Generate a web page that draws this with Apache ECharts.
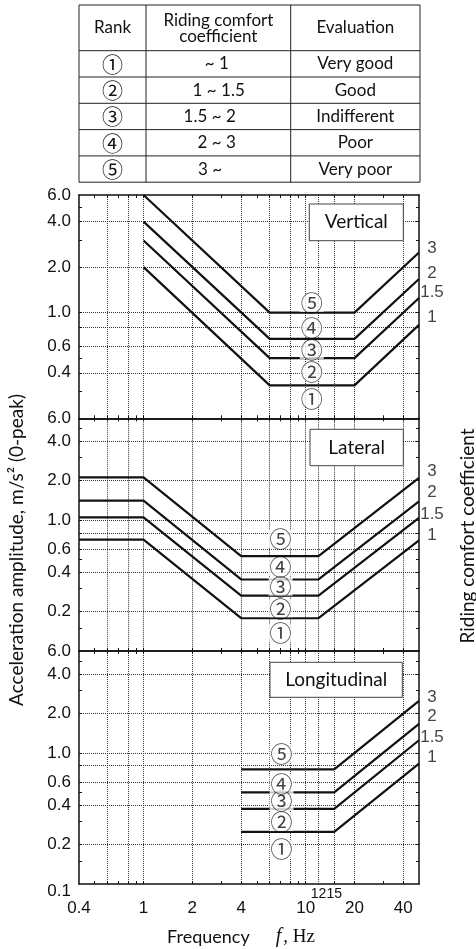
<!DOCTYPE html>
<html>
<head>
<meta charset="utf-8">
<script src="https://cdn.jsdelivr.net/npm/echarts@6/dist/echarts.min.js"></script>
<style>
  html, body { margin: 0; padding: 0; background: #fff; }
  #chart { width: 476px; height: 949px; }
</style>
</head>
<body>
<div id="chart"></div>
<script>
// Ride comfort limit lines: acceleration amplitude (m/s², 0-peak) versus frequency (Hz)
const coefficients = ['1', '1.5', '2', '3'];

const verticalFreq = [1, 6, 20, 50];
const verticalK1  = [2.0, 0.33, 0.33, 0.83];
const verticalK15 = [3.0, 0.50, 0.50, 1.25];
const verticalK2  = [4.0, 0.67, 0.67, 1.67];
const verticalK3  = [6.0, 1.00, 1.00, 2.50];

const lateralFreq = [0.4, 1, 4, 12, 50];
const lateralK1  = [0.71, 0.71, 0.178, 0.178, 0.70];
const lateralK15 = [1.05, 1.05, 0.265, 0.265, 1.04];
const lateralK2  = [1.41, 1.41, 0.352, 0.352, 1.39];
const lateralK3  = [2.12, 2.12, 0.53, 0.53, 2.10];

const longitudinalFreq = [4, 15, 50];
const longitudinalK1  = [0.25, 0.25, 0.83];
const longitudinalK15 = [0.375, 0.375, 1.25];
const longitudinalK2  = [0.50, 0.50, 1.67];
const longitudinalK3  = [0.75, 0.75, 2.50];

// Rank zones, from best to worst
const rankSymbols = ['①', '②', '③', '④', '⑤'];
const rankRanges = ['~ 1', '1 ~ 1.5', '1.5 ~ 2', '2 ~ 3', '3 ~'];
const rankEvaluations = ['Very good', 'Good', 'Indifferent', 'Poor', 'Very poor'];

// Where each zone's marker sits (frequency, amplitude)
const verticalRankAt = [[10.9, 0.271], [10.9, 0.407], [10.9, 0.567], [10.9, 0.80], [10.9, 1.16]];
const lateralRankAt = [[7, 0.137], [7, 0.212], [7, 0.31], [7, 0.44], [7, 0.72]];
const longitudinalRankAt = [[7.1, 0.186], [7.1, 0.297], [7.1, 0.429], [7.1, 0.588], [7.1, 0.98]];

// Axis ticks, grid lines and labels
const xMainLabels = [0.4, 1, 2, 4, 10, 20, 40];
const xSmallLabels = [12, 15];
const xGridValues = [0.6, 0.8, 1, 2, 4, 6, 8, 10, 12, 15, 20, 40];
const xMinorTicks = [0.5, 0.6, 0.7, 0.8, 0.9, 1, 2, 3, 4, 5, 6, 7, 8, 9, 10, 15, 20, 30, 40];
const yGridValues = [0.2, 0.4, 0.6, 0.8, 1, 2, 4];
const yMinorTicks = [0.15, 0.2, 0.3, 0.4, 0.5, 0.6, 0.8, 1, 2, 3, 4, 5];
const yLabelsVertical = [0.4, 0.6, 1, 2, 4, 6];
const yLabelsLateral = [0.2, 0.4, 0.6, 1, 2, 4, 6];
const yLabelsLongitudinal = [0.1, 0.2, 0.4, 0.6, 1, 2, 4, 6];
const panelNames = ['Vertical', 'Lateral', 'Longitudinal'];

const INK = '#111';
const NUM_FONT = 'Liberation Sans, Arial, sans-serif';
const TEXT_FONT = 'Lato, sans-serif';
const CIRCLE_FONT = 'Noto Sans CJK JP, sans-serif';

const panels = [
  { freq: verticalFreq, amps: [verticalK1, verticalK15, verticalK2, verticalK3],
    yMin: 0.2, yLabels: yLabelsVertical, rankAt: verticalRankAt,
    top: 195, height: 223.3, box: [309.3, 204, 94, 36.7], coefDy: [-8, -6, -6, -4] },
  { freq: lateralFreq, amps: [lateralK1, lateralK15, lateralK2, lateralK3],
    yMin: 0.1, yLabels: yLabelsLateral, rankAt: lateralRankAt,
    top: 418.3, height: 232.7, box: [310, 429.3, 93.3, 36.4], coefDy: [-5, -4, -9, -7] },
  { freq: longitudinalFreq, amps: [longitudinalK1, longitudinalK15, longitudinalK2, longitudinalK3],
    yMin: 0.1, yLabels: yLabelsLongitudinal, rankAt: longitudinalRankAt,
    top: 651, height: 233, box: [270, 662.3, 132.3, 35], coefDy: [-6, -3, -7, -4] }
];

const fmtX = v => String(+(+v).toPrecision(3));
const fmtY = v => {
  const s = (+v).toFixed(1);
  return Math.abs(v - 0.1) < 1e-6 ? '{lo|' + s + '}' : s;
};

const grid = [], xAxis = [], yAxis = [], series = [];
const gridLine = { show: true, lineStyle: { color: '#333', width: 1, type: [1, 1] } };
const frameLine = { show: true, lineStyle: { color: INK, width: 1.5 } };

panels.forEach((p, g) => {
  const last = g === panels.length - 1;
  grid.push({ left: 79, width: 340, top: p.top, height: p.height, outerBoundsMode: 'none' });

  const xBase = { type: 'log', logBase: 10, min: 0.4, max: 50, gridIndex: g };
  const minorX = { show: true, inside: true, length: 3, customValues: xMinorTicks, lineStyle: { color: INK, width: 1 } };
  xAxis.push(
    Object.assign({}, xBase, {
      position: 'bottom', axisLine: frameLine, axisTick: minorX, splitLine: { show: false },
      axisLabel: last ? { show: true, customValues: xMainLabels, formatter: fmtX, margin: 16,
        color: INK, fontSize: 17, fontFamily: NUM_FONT } : { show: false }
    }),
    Object.assign({}, xBase, {
      position: 'top', axisLine: frameLine, axisTick: minorX, splitLine: { show: false },
      axisLabel: { show: false }
    }),
    Object.assign({}, xBase, {
      position: 'bottom', axisLine: { show: false },
      axisTick: { show: false, customValues: xGridValues }, splitLine: gridLine,
      axisLabel: last ? { show: true, customValues: xSmallLabels, formatter: fmtX, margin: 3,
        color: INK, fontSize: 14, fontFamily: NUM_FONT } : { show: false }
    })
  );

  const yBase = { type: 'log', logBase: 10, min: p.yMin, max: 6, gridIndex: g };
  const minorY = { show: true, inside: true, length: 3, customValues: yMinorTicks, lineStyle: { color: INK, width: 1 } };
  yAxis.push(
    Object.assign({}, yBase, {
      position: 'left', axisLine: frameLine, axisTick: minorY, splitLine: { show: false },
      axisLabel: { show: true, customValues: p.yLabels, formatter: fmtY, margin: 8,
        color: INK, fontSize: 17, fontFamily: NUM_FONT,
        rich: { lo: { padding: [14, 0, 0, 0], color: INK, fontSize: 17, fontFamily: NUM_FONT } } }
    }),
    Object.assign({}, yBase, {
      position: 'right', axisLine: frameLine, axisTick: minorY, splitLine: { show: false },
      axisLabel: { show: false }
    }),
    Object.assign({}, yBase, {
      position: 'left', axisLine: { show: false },
      axisTick: { show: false, customValues: yGridValues }, splitLine: gridLine,
      axisLabel: { show: false }
    })
  );

  // Limit lines for each riding comfort coefficient
  p.amps.forEach((amp, k) => {
    series.push({
      type: 'line', name: panelNames[g] + ' ' + coefficients[k],
      xAxisIndex: 3 * g, yAxisIndex: 3 * g,
      data: p.freq.map((f, i) => [f, amp[i]]),
      showSymbol: false, symbol: 'none', clip: false,
      lineStyle: { color: INK, width: 2.2 }, z: 3
    });
  });

  // Coefficient names at the right-hand ends of the lines
  series.push({
    type: 'scatter', xAxisIndex: 3 * g, yAxisIndex: 3 * g, symbolSize: 0, clip: false, z: 4,
    data: p.amps.map((amp, k) => ({
      value: [p.freq[p.freq.length - 1], amp[amp.length - 1]],
      name: coefficients[k],
      label: { offset: [13, p.coefDy[k]] }
    })),
    label: { show: true, position: 'inside', align: 'center', verticalAlign: 'middle',
      formatter: d => d.name, color: INK, fontSize: 17, fontFamily: NUM_FONT }
  });

  // Zone markers ① to ⑤
  series.push({
    type: 'scatter', xAxisIndex: 3 * g, yAxisIndex: 3 * g, symbolSize: 0, clip: false, z: 5,
    data: p.rankAt.map((pt, r) => ({ value: pt, name: rankSymbols[r] })),
    label: { show: true, position: 'inside', align: 'center', verticalAlign: 'middle',
      formatter: d => d.name, color: INK, fontSize: 22, lineHeight: 18, fontFamily: CIRCLE_FONT,
      backgroundColor: '#fff', padding: [0, 1] }
  });
});

// Rank table above the plots
const colX = [79, 146, 290.7, 420];
const rowY = [5, 50.7, 77, 103.3, 129.6, 155.9, 182.2];
const rangeCenters = [216.7, 218.7, 209.7, 216.7, 210];
const tableEls = [];
rowY.forEach(y => tableEls.push({ type: 'line', shape: { x1: colX[0], y1: y, x2: colX[3], y2: y },
  style: { stroke: '#222', lineWidth: 1 } }));
colX.forEach(x => tableEls.push({ type: 'line', shape: { x1: x, y1: rowY[0], x2: x, y2: rowY[rowY.length - 1] },
  style: { stroke: '#222', lineWidth: 1 } }));
const cellText = (text, x, y, font, size, extra) => Object.assign({
  type: 'text', style: Object.assign({ text, x, y, align: 'center', verticalAlign: 'middle',
    fontFamily: font, fontSize: size, fill: INK }, extra || {}) });
tableEls.push(cellText('Rank', (colX[0] + colX[1]) / 2, 28, TEXT_FONT, 17));
tableEls.push(cellText('Riding comfort\ncoefficient', (colX[1] + colX[2]) / 2, 29, TEXT_FONT, 17, { lineHeight: 16 }));
tableEls.push(cellText('Evaluation', (colX[2] + colX[3]) / 2, 28, TEXT_FONT, 17));
rankSymbols.forEach((s, r) => {
  const cy = (rowY[r + 1] + rowY[r + 2]) / 2;
  tableEls.push(cellText(s, (colX[0] + colX[1]) / 2, cy, CIRCLE_FONT, 21));
  tableEls.push(cellText(rankRanges[r], rangeCenters[r], cy, TEXT_FONT, 17));
  tableEls.push(cellText(rankEvaluations[r], (colX[2] + colX[3]) / 2, cy, TEXT_FONT, 17));
});

// Panel name boxes
const boxEls = [];
panels.forEach((p, g) => {
  const [bx, by, bw, bh] = p.box;
  boxEls.push({ type: 'rect', shape: { x: bx, y: by, width: bw, height: bh },
    style: { fill: '#fff', stroke: '#444', lineWidth: 1 }, z: 10 });
  boxEls.push({ type: 'text', z: 11, style: { text: panelNames[g], x: bx + bw / 2, y: by + bh / 2,
    align: 'center', verticalAlign: 'middle', fontFamily: TEXT_FONT, fontSize: 19, fill: INK } });
});

// Axis titles
const titleEls = [
  { type: 'text', x: 17, y: 550, rotation: Math.PI / 2,
    style: { text: 'Acceleration amplitude, m/s² (0-peak)', x: 0, y: 0, align: 'center', verticalAlign: 'middle',
      fontFamily: TEXT_FONT, fontSize: 19, fill: INK } },
  { type: 'text', x: 468, y: 536, rotation: Math.PI / 2,
    style: { text: 'Riding comfort coefficient', x: 0, y: 0, align: 'center', verticalAlign: 'middle',
      fontFamily: TEXT_FONT, fontSize: 19, fill: INK } },
  { type: 'text', x: 241, y: 937,
    style: { text: '{a|Frequency}{f|f}{b|, Hz}', x: 0, y: 0, align: 'center', verticalAlign: 'middle',
      rich: {
        a: { fontFamily: TEXT_FONT, fontSize: 18, fill: INK },
        f: { fontFamily: 'Liberation Serif, serif', fontStyle: 'italic', fontSize: 20, fill: INK, padding: [0, 2, 0, 26] },
        b: { fontFamily: 'Liberation Serif, serif', fontSize: 19, fill: INK }
      } } }
];

const chart = echarts.init(document.getElementById('chart'), null, { renderer: 'canvas' });
chart.setOption({
  animation: false,
  backgroundColor: '#fff',
  grid, xAxis, yAxis, series,
  graphic: { elements: tableEls.concat(boxEls, titleEls) }
});
</script>
</body>
</html>
